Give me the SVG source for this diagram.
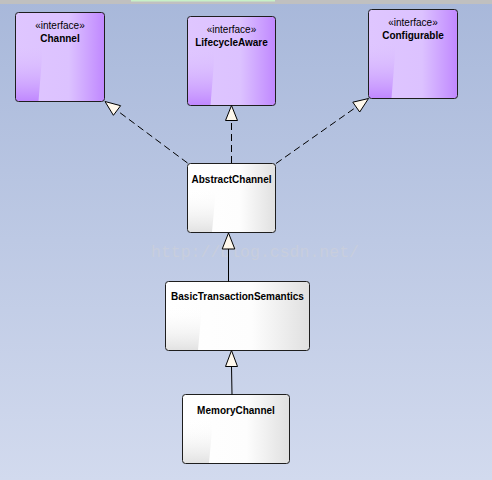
<svg xmlns="http://www.w3.org/2000/svg" width="492" height="480" viewBox="0 0 492 480">
<defs>
<linearGradient id="bg" x1="0" y1="0" x2="0" y2="1">
<stop offset="0" stop-color="#a8b8da"/>
<stop offset="1" stop-color="#d2daee"/>
</linearGradient>
<linearGradient id="pH" x1="0" y1="0" x2="1" y2="0">
<stop offset="0" stop-color="#dfc6ff"/>
<stop offset="0.6" stop-color="#dcc2ff"/>
<stop offset="1" stop-color="#c088ff"/>
</linearGradient>
<linearGradient id="pV" x1="0" y1="0" x2="0" y2="1">
<stop offset="0.35" stop-color="#dfc6ff" stop-opacity="0"/>
<stop offset="1" stop-color="#c088ff"/>
</linearGradient>
<linearGradient id="wH" x1="0" y1="0" x2="1" y2="0">
<stop offset="0" stop-color="#ffffff"/>
<stop offset="0.6" stop-color="#fdfdfd"/>
<stop offset="1" stop-color="#e0e0e0"/>
</linearGradient>
<linearGradient id="wV" x1="0" y1="0" x2="0" y2="1">
<stop offset="0.35" stop-color="#ffffff" stop-opacity="0"/>
<stop offset="1" stop-color="#e2e2e2"/>
</linearGradient>
<style>
.box{stroke:#1e1e1e;stroke-width:1}
.ster{font-family:"Liberation Sans",Arial,sans-serif;font-size:10px;text-anchor:middle;fill:#000}
.name{font-family:"Liberation Sans",Arial,sans-serif;font-size:10px;font-weight:bold;text-anchor:middle;fill:#000}
.dash{stroke:#000;stroke-width:1;fill:none;stroke-dasharray:7,4}
.solid{stroke:#000;stroke-width:1;fill:none}
.head{fill:#fff8ec;stroke:#000;stroke-width:1;stroke-linejoin:miter}
.wm{font-family:"Liberation Mono","Courier New",monospace;font-size:16.5px;fill:#c8cedd}
</style>
</defs>
<rect x="0" y="0" width="492" height="480" fill="url(#bg)"/>
<rect x="0" y="0" width="492" height="4" fill="#c0c0c0"/>
<rect x="131" y="0" width="144" height="1.5" fill="#c8f0c8"/>
<text class="wm" x="151" y="256.5">http://blog.csdn.net/</text>

<g id="Channel">
<rect x="15.5" y="12.5" width="89" height="89" rx="3" fill="url(#pH)"/>
<path d="M16 13 L45 13 Q42 60 38.5 101 L16 101 Z" fill="url(#pV)"/>
<rect class="box" x="15.5" y="12.5" width="89" height="89" rx="3" fill="none"/>
<text class="ster" x="60" y="28.5">«interface»</text>
<text class="name" x="60" y="41.5">Channel</text>
</g>
<g id="LifecycleAware">
<rect x="187.5" y="16.5" width="88" height="89" rx="3" fill="url(#pH)"/>
<path d="M188 17 L217 17 Q214 64 210.5 105 L188 105 Z" fill="url(#pV)"/>
<rect class="box" x="187.5" y="16.5" width="88" height="89" rx="3" fill="none"/>
<text class="ster" x="231.5" y="32.5">«interface»</text>
<text class="name" x="231.5" y="45.5">LifecycleAware</text>
</g>
<g id="Configurable">
<rect x="368.5" y="9.5" width="89" height="89" rx="3" fill="url(#pH)"/>
<path d="M369 10 L398 10 Q395 57 391.5 98 L369 98 Z" fill="url(#pV)"/>
<rect class="box" x="368.5" y="9.5" width="89" height="89" rx="3" fill="none"/>
<text class="ster" x="413" y="25.5">«interface»</text>
<text class="name" x="413" y="38.5">Configurable</text>
</g>
<g id="AbstractChannel">
<rect x="187.5" y="163.5" width="88" height="69" rx="3" fill="url(#wH)"/>
<path d="M188 164 L218 164 Q215 200 212 232 L188 232 Z" fill="url(#wV)"/>
<rect class="box" x="187.5" y="163.5" width="88" height="69" rx="3" fill="none"/>
<text class="name" x="231.5" y="182.5">AbstractChannel</text>
</g>
<g id="BasicTransactionSemantics">
<rect x="165.5" y="281.5" width="144" height="69" rx="3" fill="url(#wH)"/>
<path d="M166 282 L204 282 Q201 318 198 350 L166 350 Z" fill="url(#wV)"/>
<rect class="box" x="165.5" y="281.5" width="144" height="69" rx="3" fill="none"/>
<text class="name" x="237.5" y="300">BasicTransactionSemantics</text>
</g>
<g id="MemoryChannel">
<rect x="182.5" y="394.5" width="107" height="69" rx="3" fill="url(#wH)"/>
<path d="M183 395 L215 395 Q212 431 209 463 L183 463 Z" fill="url(#wV)"/>
<rect class="box" x="182.5" y="394.5" width="107" height="69" rx="3" fill="none"/>
<text class="name" x="236" y="413.5">MemoryChannel</text>
</g>

<g id="connectors">
<line class="dash" x1="187.5" y1="163" x2="117" y2="110.5"/>
<polygon class="head" points="105,101.5 120.6,105.7 113.4,115.3"/>
<line class="dash" x1="231.5" y1="163" x2="231.5" y2="120.5"/>
<polygon class="head" points="231.5,105.5 237.5,120.5 225.5,120.5"/>
<line class="dash" x1="276" y1="163.5" x2="356.2" y2="107.1"/>
<polygon class="head" points="368.5,98.5 359.7,112 352.8,102.2"/>
<line class="solid" x1="228.5" y1="281.5" x2="228.5" y2="249"/>
<polygon class="head" points="228.5,233 234.8,249 222.2,249"/>
<line class="solid" x1="232" y1="394.5" x2="231.5" y2="366.5"/>
<polygon class="head" points="231.5,350.5 237.5,366.5 225.5,366.5"/>
</g>
</svg>
